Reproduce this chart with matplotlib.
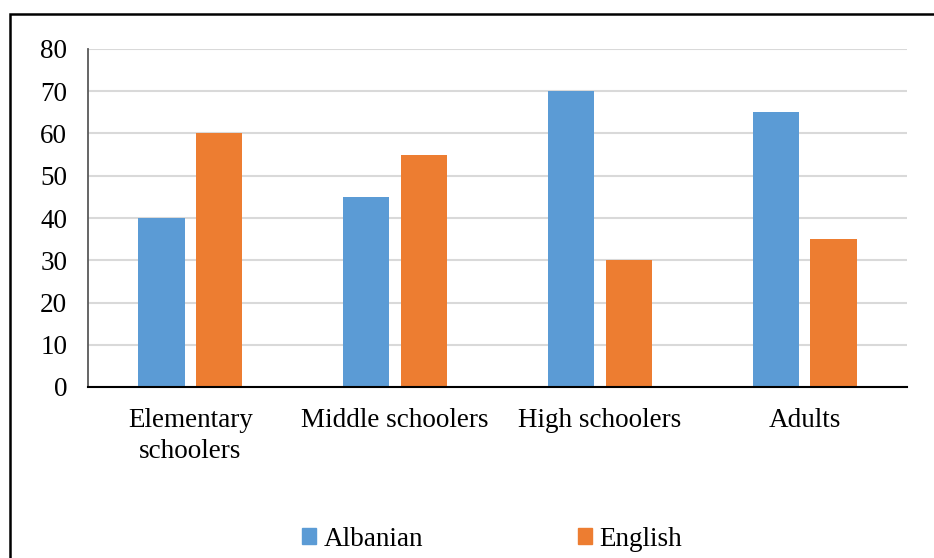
import numpy as np
import matplotlib.pyplot as plt
from matplotlib.patches import Rectangle, Patch

categories = ['Elementary\nschoolers', 'Middle schoolers', 'High schoolers', 'Adults']
albanian = [40, 45, 70, 65]
english = [60, 55, 30, 35]
yticks = [0, 10, 20, 30, 40, 50, 60, 70, 80]

plt.rcParams['font.family'] = ['Liberation Serif', 'DejaVu Serif']

W, H = 934, 558
fig = plt.figure(figsize=(W / 100, H / 100), dpi=100)

# outer frame (open on the right and bottom edges in the reference)
fig.patches.append(Rectangle((10 / W, -0.1), 1.2, 1 - 14 / H + 0.1,
                             transform=fig.transFigure, fill=False,
                             edgecolor='black', linewidth=1.8))

ax = fig.add_axes([88 / W, (H - 387) / H, 819 / W, 338 / H])

x = np.arange(len(categories))
w = 0.225
blue = '#5B9BD5'
orange = '#ED7D31'
ax.bar(x - 0.141, albanian, w, color=blue, zorder=3)
ax.bar(x + 0.141, english, w, color=orange, zorder=3)

ax.set_xlim(-0.5, len(categories) - 0.5)
ax.set_ylim(0, 80)
ax.set_yticks(yticks)
ax.set_xticks(x)
ax.set_xticklabels(categories, fontsize=19.5, linespacing=1.3)
ax.tick_params(axis='y', labelsize=19.5, length=0, pad=15)
ax.tick_params(axis='x', length=0, pad=15)
ax.grid(axis='y', color='#d9d9d9', linewidth=1.5, zorder=0)

for s in ['top', 'right']:
    ax.spines[s].set_visible(False)
ax.spines['left'].set_color('#595959')
ax.spines['left'].set_linewidth(1.3)
ax.spines['bottom'].set_color('black')
ax.spines['bottom'].set_linewidth(1.5)
ax.spines['bottom'].set_zorder(4)

handles = [Patch(color=blue, label='Albanian'), Patch(color=orange, label='English')]
fig.legend(handles=handles, loc='center', bbox_to_anchor=(492 / W, 1 - 539 / H),
           ncol=2, frameon=False, fontsize=19.5, handlelength=0.52,
           handleheight=0.52, handletextpad=0.26, columnspacing=5.72)

fig.savefig('out.png', dpi=100)
